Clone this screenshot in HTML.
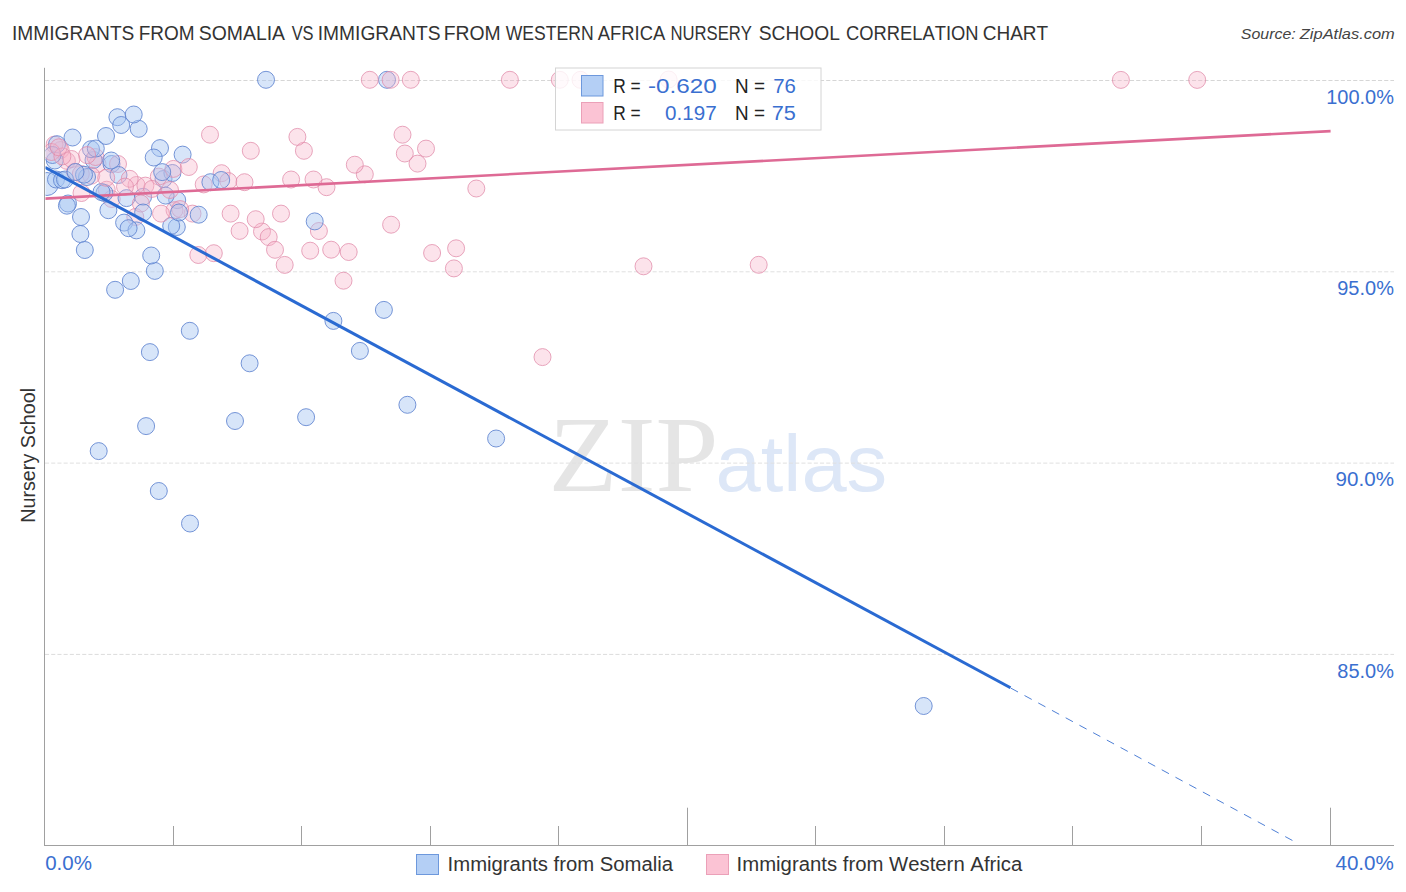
<!DOCTYPE html>
<html><head><meta charset="utf-8"><title>Chart</title>
<style>
html,body{margin:0;padding:0;background:#fff;}
body{width:1406px;height:892px;overflow:hidden;position:relative;font-family:"Liberation Sans", sans-serif;}
svg{position:absolute;left:0;top:0;}
text{font-family:"Liberation Sans", sans-serif;font-kerning:none;white-space:pre;}
</style></head><body>
<svg width="1406" height="892" viewBox="0 0 1406 892">
<defs><clipPath id="plot"><rect x="45.5" y="60" width="1348.5" height="785"/></clipPath></defs>

<text x="12.03" y="39.9" font-size="20" fill="#333" textLength="122.35" lengthAdjust="spacingAndGlyphs" style='font-family:"Liberation Sans", sans-serif'>IMMIGRANTS</text>
<text x="138.64" y="39.9" font-size="20" fill="#333" textLength="55.92" lengthAdjust="spacingAndGlyphs" style='font-family:"Liberation Sans", sans-serif'>FROM</text>
<text x="198.82" y="39.9" font-size="20" fill="#333" textLength="86.22" lengthAdjust="spacingAndGlyphs" style='font-family:"Liberation Sans", sans-serif'>SOMALIA</text>
<text x="291.63" y="39.9" font-size="20" fill="#333" textLength="21.93" lengthAdjust="spacingAndGlyphs" style='font-family:"Liberation Sans", sans-serif'>VS</text>
<text x="317.73" y="39.9" font-size="20" fill="#333" textLength="122.76" lengthAdjust="spacingAndGlyphs" style='font-family:"Liberation Sans", sans-serif'>IMMIGRANTS</text>
<text x="443.71" y="39.9" font-size="20" fill="#333" textLength="56.98" lengthAdjust="spacingAndGlyphs" style='font-family:"Liberation Sans", sans-serif'>FROM</text>
<text x="505.72" y="39.9" font-size="20" fill="#333" textLength="87.91" lengthAdjust="spacingAndGlyphs" style='font-family:"Liberation Sans", sans-serif'>WESTERN</text>
<text x="597.86" y="39.9" font-size="20" fill="#333" textLength="67.37" lengthAdjust="spacingAndGlyphs" style='font-family:"Liberation Sans", sans-serif'>AFRICA</text>
<text x="670.53" y="39.9" font-size="20" fill="#333" textLength="81.43" lengthAdjust="spacingAndGlyphs" style='font-family:"Liberation Sans", sans-serif'>NURSERY</text>
<text x="758.73" y="39.9" font-size="20" fill="#333" textLength="81.21" lengthAdjust="spacingAndGlyphs" style='font-family:"Liberation Sans", sans-serif'>SCHOOL</text>
<text x="846.07" y="39.9" font-size="20" fill="#333" textLength="132.53" lengthAdjust="spacingAndGlyphs" style='font-family:"Liberation Sans", sans-serif'>CORRELATION</text>
<text x="982.74" y="39.9" font-size="20" fill="#333" textLength="65.40" lengthAdjust="spacingAndGlyphs" style='font-family:"Liberation Sans", sans-serif'>CHART</text>
<text x="1240.85" y="38.8" font-size="15.5" fill="#444" font-style="italic" textLength="54.89" lengthAdjust="spacingAndGlyphs" style='font-family:"Liberation Sans", sans-serif'>Source:</text>
<text x="1299.82" y="38.8" font-size="15.5" fill="#444" font-style="italic" textLength="94.94" lengthAdjust="spacingAndGlyphs" style='font-family:"Liberation Sans", sans-serif'>ZipAtlas.com</text>
<text x="548.58" y="490.9" font-size="108" fill="#e5e5e5" textLength="169.96" lengthAdjust="spacingAndGlyphs" style='font-family:"Liberation Serif", serif'>ZIP</text>
<text x="715.55" y="490.9" font-size="80" fill="#dde7f7" textLength="171.69" lengthAdjust="spacingAndGlyphs" style='font-family:"Liberation Sans", sans-serif'>atlas</text>
<line x1="45" y1="80.5" x2="1394" y2="80.5" stroke="#d6d6d6" stroke-width="1" stroke-dasharray="4.1 2.1"/>
<line x1="45" y1="271.8" x2="1394" y2="271.8" stroke="#e0e0e0" stroke-width="1" stroke-dasharray="4.1 2.1"/>
<line x1="45" y1="463.1" x2="1394" y2="463.1" stroke="#e0e0e0" stroke-width="1" stroke-dasharray="4.1 2.1"/>
<line x1="45" y1="654.4" x2="1394" y2="654.4" stroke="#dcdcdc" stroke-width="1" stroke-dasharray="4.1 2.1"/>
<line x1="44.5" y1="67.8" x2="44.5" y2="846" stroke="#a0a0a0" stroke-width="1"/>
<line x1="44" y1="845.5" x2="1394" y2="845.5" stroke="#a0a0a0" stroke-width="1"/>
<line x1="173.5" y1="826" x2="173.5" y2="845.5" stroke="#a0a0a0" stroke-width="1"/>
<line x1="301.5" y1="826" x2="301.5" y2="845.5" stroke="#a0a0a0" stroke-width="1"/>
<line x1="430.5" y1="826" x2="430.5" y2="845.5" stroke="#a0a0a0" stroke-width="1"/>
<line x1="558.5" y1="826" x2="558.5" y2="845.5" stroke="#a0a0a0" stroke-width="1"/>
<line x1="687.5" y1="807.7" x2="687.5" y2="845.5" stroke="#a0a0a0" stroke-width="1"/>
<line x1="815.5" y1="826" x2="815.5" y2="845.5" stroke="#a0a0a0" stroke-width="1"/>
<line x1="944.5" y1="826" x2="944.5" y2="845.5" stroke="#a0a0a0" stroke-width="1"/>
<line x1="1072.5" y1="826" x2="1072.5" y2="845.5" stroke="#a0a0a0" stroke-width="1"/>
<line x1="1201.5" y1="826" x2="1201.5" y2="845.5" stroke="#a0a0a0" stroke-width="1"/>
<line x1="1330.5" y1="807.7" x2="1330.5" y2="845.5" stroke="#a0a0a0" stroke-width="1"/>
<text x="1326.18" y="103.8" font-size="20" fill="#3a6fd0" textLength="67.73" lengthAdjust="spacingAndGlyphs" style='font-family:"Liberation Sans", sans-serif'>100.0%</text>
<text x="1337.26" y="295" font-size="20" fill="#3a6fd0" textLength="56.65" lengthAdjust="spacingAndGlyphs" style='font-family:"Liberation Sans", sans-serif'>95.0%</text>
<text x="1335.64" y="485.7" font-size="20" fill="#3a6fd0" textLength="58.30" lengthAdjust="spacingAndGlyphs" style='font-family:"Liberation Sans", sans-serif'>90.0%</text>
<text x="1337.33" y="678" font-size="20" fill="#3a6fd0" textLength="56.58" lengthAdjust="spacingAndGlyphs" style='font-family:"Liberation Sans", sans-serif'>85.0%</text>
<text x="45.20" y="870" font-size="20" fill="#3a6fd0" textLength="46.73" lengthAdjust="spacingAndGlyphs" style='font-family:"Liberation Sans", sans-serif'>0.0%</text>
<text x="1335.43" y="869.9" font-size="20" fill="#3a6fd0" textLength="58.41" lengthAdjust="spacingAndGlyphs" style='font-family:"Liberation Sans", sans-serif'>40.0%</text>
<text transform="translate(35,521.2) rotate(-90)" x="-1.62" y="0" font-size="20" fill="#333" textLength="134.94" lengthAdjust="spacingAndGlyphs">Nursery School</text>
<g clip-path="url(#plot)">
<circle cx="47" cy="184" r="11.5" fill="#a6c6f2" fill-opacity="0.45" stroke="#5f84d0" stroke-opacity="0.85" stroke-width="1"/>
<circle cx="60.7" cy="150" r="8.5" fill="#f8b4c8" fill-opacity="0.37" stroke="#e08aa8" stroke-opacity="0.75" stroke-width="1"/>
<circle cx="402.5" cy="134.7" r="8.5" fill="#f8b4c8" fill-opacity="0.37" stroke="#e08aa8" stroke-opacity="0.75" stroke-width="1"/>
<circle cx="509.9" cy="79.8" r="8.5" fill="#f8b4c8" fill-opacity="0.37" stroke="#e08aa8" stroke-opacity="0.75" stroke-width="1"/>
<circle cx="410.8" cy="79.8" r="8.5" fill="#f8b4c8" fill-opacity="0.37" stroke="#e08aa8" stroke-opacity="0.75" stroke-width="1"/>
<circle cx="668.6" cy="79.5" r="8.5" fill="#f8b4c8" fill-opacity="0.37" stroke="#e08aa8" stroke-opacity="0.75" stroke-width="1"/>
<circle cx="221.6" cy="173.2" r="8.5" fill="#f8b4c8" fill-opacity="0.37" stroke="#e08aa8" stroke-opacity="0.75" stroke-width="1"/>
<circle cx="182.6" cy="154.6" r="8.5" fill="#a6c6f2" fill-opacity="0.45" stroke="#5f84d0" stroke-opacity="0.85" stroke-width="1"/>
<circle cx="106.7" cy="189.7" r="8.5" fill="#f8b4c8" fill-opacity="0.37" stroke="#e08aa8" stroke-opacity="0.75" stroke-width="1"/>
<circle cx="56" cy="179.5" r="8.5" fill="#a6c6f2" fill-opacity="0.45" stroke="#5f84d0" stroke-opacity="0.85" stroke-width="1"/>
<circle cx="758.7" cy="264.8" r="8.5" fill="#f8b4c8" fill-opacity="0.37" stroke="#e08aa8" stroke-opacity="0.75" stroke-width="1"/>
<circle cx="97.5" cy="164" r="8.5" fill="#f8b4c8" fill-opacity="0.37" stroke="#e08aa8" stroke-opacity="0.75" stroke-width="1"/>
<circle cx="111.7" cy="199" r="8.5" fill="#f8b4c8" fill-opacity="0.37" stroke="#e08aa8" stroke-opacity="0.75" stroke-width="1"/>
<circle cx="66.9" cy="160.9" r="8.5" fill="#f8b4c8" fill-opacity="0.37" stroke="#e08aa8" stroke-opacity="0.75" stroke-width="1"/>
<circle cx="163.5" cy="179" r="8.5" fill="#a6c6f2" fill-opacity="0.45" stroke="#5f84d0" stroke-opacity="0.85" stroke-width="1"/>
<circle cx="172.4" cy="173" r="8.5" fill="#a6c6f2" fill-opacity="0.45" stroke="#5f84d0" stroke-opacity="0.85" stroke-width="1"/>
<circle cx="93.5" cy="160" r="8.5" fill="#a6c6f2" fill-opacity="0.45" stroke="#5f84d0" stroke-opacity="0.85" stroke-width="1"/>
<circle cx="135.3" cy="217" r="8.5" fill="#f8b4c8" fill-opacity="0.37" stroke="#e08aa8" stroke-opacity="0.75" stroke-width="1"/>
<circle cx="1197.2" cy="79.9" r="8.5" fill="#f8b4c8" fill-opacity="0.37" stroke="#e08aa8" stroke-opacity="0.75" stroke-width="1"/>
<circle cx="146.1" cy="426.1" r="8.5" fill="#a6c6f2" fill-opacity="0.45" stroke="#5f84d0" stroke-opacity="0.85" stroke-width="1"/>
<circle cx="81.5" cy="193" r="8.5" fill="#f8b4c8" fill-opacity="0.37" stroke="#e08aa8" stroke-opacity="0.75" stroke-width="1"/>
<circle cx="198.3" cy="255" r="8.5" fill="#f8b4c8" fill-opacity="0.37" stroke="#e08aa8" stroke-opacity="0.75" stroke-width="1"/>
<circle cx="387" cy="79.8" r="8.5" fill="#a6c6f2" fill-opacity="0.45" stroke="#5f84d0" stroke-opacity="0.85" stroke-width="1"/>
<circle cx="476.3" cy="188.5" r="8.5" fill="#f8b4c8" fill-opacity="0.37" stroke="#e08aa8" stroke-opacity="0.75" stroke-width="1"/>
<circle cx="62" cy="180.2" r="8.5" fill="#a6c6f2" fill-opacity="0.45" stroke="#5f84d0" stroke-opacity="0.85" stroke-width="1"/>
<circle cx="104.4" cy="193" r="8.5" fill="#a6c6f2" fill-opacity="0.45" stroke="#5f84d0" stroke-opacity="0.85" stroke-width="1"/>
<circle cx="91.3" cy="175.7" r="8.5" fill="#f8b4c8" fill-opacity="0.37" stroke="#e08aa8" stroke-opacity="0.75" stroke-width="1"/>
<circle cx="75" cy="171.8" r="8.5" fill="#f8b4c8" fill-opacity="0.37" stroke="#e08aa8" stroke-opacity="0.75" stroke-width="1"/>
<circle cx="189.8" cy="330.8" r="8.5" fill="#a6c6f2" fill-opacity="0.45" stroke="#5f84d0" stroke-opacity="0.85" stroke-width="1"/>
<circle cx="95.5" cy="157" r="8.5" fill="#f8b4c8" fill-opacity="0.37" stroke="#e08aa8" stroke-opacity="0.75" stroke-width="1"/>
<circle cx="138.7" cy="128.8" r="8.5" fill="#a6c6f2" fill-opacity="0.45" stroke="#5f84d0" stroke-opacity="0.85" stroke-width="1"/>
<circle cx="91" cy="149.2" r="8.5" fill="#a6c6f2" fill-opacity="0.45" stroke="#5f84d0" stroke-opacity="0.85" stroke-width="1"/>
<circle cx="54.5" cy="144.6" r="8.5" fill="#f8b4c8" fill-opacity="0.37" stroke="#e08aa8" stroke-opacity="0.75" stroke-width="1"/>
<circle cx="331.2" cy="249.7" r="8.5" fill="#f8b4c8" fill-opacity="0.37" stroke="#e08aa8" stroke-opacity="0.75" stroke-width="1"/>
<circle cx="117.4" cy="117.2" r="8.5" fill="#a6c6f2" fill-opacity="0.45" stroke="#5f84d0" stroke-opacity="0.85" stroke-width="1"/>
<circle cx="54.8" cy="160.5" r="8.5" fill="#a6c6f2" fill-opacity="0.45" stroke="#5f84d0" stroke-opacity="0.85" stroke-width="1"/>
<circle cx="262" cy="231.5" r="8.5" fill="#f8b4c8" fill-opacity="0.37" stroke="#e08aa8" stroke-opacity="0.75" stroke-width="1"/>
<circle cx="57" cy="144.2" r="8.5" fill="#a6c6f2" fill-opacity="0.45" stroke="#5f84d0" stroke-opacity="0.85" stroke-width="1"/>
<circle cx="111.5" cy="164" r="8.5" fill="#a6c6f2" fill-opacity="0.45" stroke="#5f84d0" stroke-opacity="0.85" stroke-width="1"/>
<circle cx="426" cy="148.6" r="8.5" fill="#f8b4c8" fill-opacity="0.37" stroke="#e08aa8" stroke-opacity="0.75" stroke-width="1"/>
<circle cx="160" cy="148.1" r="8.5" fill="#a6c6f2" fill-opacity="0.45" stroke="#5f84d0" stroke-opacity="0.85" stroke-width="1"/>
<circle cx="126.5" cy="198.1" r="8.5" fill="#a6c6f2" fill-opacity="0.45" stroke="#5f84d0" stroke-opacity="0.85" stroke-width="1"/>
<circle cx="80.4" cy="234" r="8.5" fill="#a6c6f2" fill-opacity="0.45" stroke="#5f84d0" stroke-opacity="0.85" stroke-width="1"/>
<circle cx="80.8" cy="174" r="8.5" fill="#f8b4c8" fill-opacity="0.37" stroke="#e08aa8" stroke-opacity="0.75" stroke-width="1"/>
<circle cx="68" cy="203.5" r="8.5" fill="#a6c6f2" fill-opacity="0.45" stroke="#5f84d0" stroke-opacity="0.85" stroke-width="1"/>
<circle cx="213.8" cy="253.2" r="8.5" fill="#f8b4c8" fill-opacity="0.37" stroke="#e08aa8" stroke-opacity="0.75" stroke-width="1"/>
<circle cx="176.8" cy="227" r="8.5" fill="#a6c6f2" fill-opacity="0.45" stroke="#5f84d0" stroke-opacity="0.85" stroke-width="1"/>
<circle cx="580.5" cy="79.8" r="8.5" fill="#f8b4c8" fill-opacity="0.37" stroke="#e08aa8" stroke-opacity="0.75" stroke-width="1"/>
<circle cx="177.2" cy="200.1" r="8.5" fill="#a6c6f2" fill-opacity="0.45" stroke="#5f84d0" stroke-opacity="0.85" stroke-width="1"/>
<circle cx="192.5" cy="213.6" r="8.5" fill="#f8b4c8" fill-opacity="0.37" stroke="#e08aa8" stroke-opacity="0.75" stroke-width="1"/>
<circle cx="72.5" cy="137.5" r="8.5" fill="#a6c6f2" fill-opacity="0.45" stroke="#5f84d0" stroke-opacity="0.85" stroke-width="1"/>
<circle cx="171.2" cy="225.9" r="8.5" fill="#a6c6f2" fill-opacity="0.45" stroke="#5f84d0" stroke-opacity="0.85" stroke-width="1"/>
<circle cx="95.8" cy="148.5" r="8.5" fill="#a6c6f2" fill-opacity="0.45" stroke="#5f84d0" stroke-opacity="0.85" stroke-width="1"/>
<circle cx="71.5" cy="159" r="8.5" fill="#f8b4c8" fill-opacity="0.37" stroke="#e08aa8" stroke-opacity="0.75" stroke-width="1"/>
<circle cx="266" cy="79.8" r="8.5" fill="#a6c6f2" fill-opacity="0.45" stroke="#5f84d0" stroke-opacity="0.85" stroke-width="1"/>
<circle cx="318.9" cy="231" r="8.5" fill="#f8b4c8" fill-opacity="0.37" stroke="#e08aa8" stroke-opacity="0.75" stroke-width="1"/>
<circle cx="173.4" cy="168.9" r="8.5" fill="#f8b4c8" fill-opacity="0.37" stroke="#e08aa8" stroke-opacity="0.75" stroke-width="1"/>
<circle cx="118" cy="164" r="8.5" fill="#f8b4c8" fill-opacity="0.37" stroke="#e08aa8" stroke-opacity="0.75" stroke-width="1"/>
<circle cx="84.8" cy="250" r="8.5" fill="#a6c6f2" fill-opacity="0.45" stroke="#5f84d0" stroke-opacity="0.85" stroke-width="1"/>
<circle cx="121.2" cy="125" r="8.5" fill="#a6c6f2" fill-opacity="0.45" stroke="#5f84d0" stroke-opacity="0.85" stroke-width="1"/>
<circle cx="149.9" cy="352.1" r="8.5" fill="#a6c6f2" fill-opacity="0.45" stroke="#5f84d0" stroke-opacity="0.85" stroke-width="1"/>
<circle cx="496.1" cy="438.5" r="8.5" fill="#a6c6f2" fill-opacity="0.45" stroke="#5f84d0" stroke-opacity="0.85" stroke-width="1"/>
<circle cx="87.1" cy="155.1" r="8.5" fill="#f8b4c8" fill-opacity="0.37" stroke="#e08aa8" stroke-opacity="0.75" stroke-width="1"/>
<circle cx="210" cy="134.7" r="8.5" fill="#f8b4c8" fill-opacity="0.37" stroke="#e08aa8" stroke-opacity="0.75" stroke-width="1"/>
<circle cx="303.9" cy="150.8" r="8.5" fill="#f8b4c8" fill-opacity="0.37" stroke="#e08aa8" stroke-opacity="0.75" stroke-width="1"/>
<circle cx="174.5" cy="210.2" r="8.5" fill="#f8b4c8" fill-opacity="0.37" stroke="#e08aa8" stroke-opacity="0.75" stroke-width="1"/>
<circle cx="65" cy="179.5" r="8.5" fill="#a6c6f2" fill-opacity="0.45" stroke="#5f84d0" stroke-opacity="0.85" stroke-width="1"/>
<circle cx="158.8" cy="176.6" r="8.5" fill="#f8b4c8" fill-opacity="0.37" stroke="#e08aa8" stroke-opacity="0.75" stroke-width="1"/>
<circle cx="154.8" cy="270.9" r="8.5" fill="#a6c6f2" fill-opacity="0.45" stroke="#5f84d0" stroke-opacity="0.85" stroke-width="1"/>
<circle cx="923.7" cy="706" r="8.5" fill="#a6c6f2" fill-opacity="0.45" stroke="#5f84d0" stroke-opacity="0.85" stroke-width="1"/>
<circle cx="383.9" cy="309.9" r="8.5" fill="#a6c6f2" fill-opacity="0.45" stroke="#5f84d0" stroke-opacity="0.85" stroke-width="1"/>
<circle cx="391.1" cy="224.7" r="8.5" fill="#f8b4c8" fill-opacity="0.37" stroke="#e08aa8" stroke-opacity="0.75" stroke-width="1"/>
<circle cx="66.9" cy="205.7" r="8.5" fill="#a6c6f2" fill-opacity="0.45" stroke="#5f84d0" stroke-opacity="0.85" stroke-width="1"/>
<circle cx="108.4" cy="210.2" r="8.5" fill="#a6c6f2" fill-opacity="0.45" stroke="#5f84d0" stroke-opacity="0.85" stroke-width="1"/>
<circle cx="235" cy="421" r="8.5" fill="#a6c6f2" fill-opacity="0.45" stroke="#5f84d0" stroke-opacity="0.85" stroke-width="1"/>
<circle cx="143.1" cy="196.8" r="8.5" fill="#a6c6f2" fill-opacity="0.45" stroke="#5f84d0" stroke-opacity="0.85" stroke-width="1"/>
<circle cx="136.5" cy="185" r="8.5" fill="#f8b4c8" fill-opacity="0.37" stroke="#e08aa8" stroke-opacity="0.75" stroke-width="1"/>
<circle cx="161" cy="213.6" r="8.5" fill="#f8b4c8" fill-opacity="0.37" stroke="#e08aa8" stroke-opacity="0.75" stroke-width="1"/>
<circle cx="52.5" cy="155" r="8.5" fill="#a6c6f2" fill-opacity="0.45" stroke="#5f84d0" stroke-opacity="0.85" stroke-width="1"/>
<circle cx="203.7" cy="184.4" r="8.5" fill="#f8b4c8" fill-opacity="0.37" stroke="#e08aa8" stroke-opacity="0.75" stroke-width="1"/>
<circle cx="364.8" cy="174.3" r="8.5" fill="#f8b4c8" fill-opacity="0.37" stroke="#e08aa8" stroke-opacity="0.75" stroke-width="1"/>
<circle cx="239.6" cy="230.9" r="8.5" fill="#f8b4c8" fill-opacity="0.37" stroke="#e08aa8" stroke-opacity="0.75" stroke-width="1"/>
<circle cx="390.6" cy="79.8" r="8.5" fill="#f8b4c8" fill-opacity="0.37" stroke="#e08aa8" stroke-opacity="0.75" stroke-width="1"/>
<circle cx="124.1" cy="222.6" r="8.5" fill="#a6c6f2" fill-opacity="0.45" stroke="#5f84d0" stroke-opacity="0.85" stroke-width="1"/>
<circle cx="51.5" cy="152" r="8.5" fill="#f8b4c8" fill-opacity="0.37" stroke="#e08aa8" stroke-opacity="0.75" stroke-width="1"/>
<circle cx="314.7" cy="221.4" r="8.5" fill="#a6c6f2" fill-opacity="0.45" stroke="#5f84d0" stroke-opacity="0.85" stroke-width="1"/>
<circle cx="354.8" cy="164.7" r="8.5" fill="#f8b4c8" fill-opacity="0.37" stroke="#e08aa8" stroke-opacity="0.75" stroke-width="1"/>
<circle cx="188.8" cy="167" r="8.5" fill="#f8b4c8" fill-opacity="0.37" stroke="#e08aa8" stroke-opacity="0.75" stroke-width="1"/>
<circle cx="268.7" cy="237.1" r="8.5" fill="#f8b4c8" fill-opacity="0.37" stroke="#e08aa8" stroke-opacity="0.75" stroke-width="1"/>
<circle cx="140.9" cy="203.5" r="8.5" fill="#f8b4c8" fill-opacity="0.37" stroke="#e08aa8" stroke-opacity="0.75" stroke-width="1"/>
<circle cx="98.7" cy="451.1" r="8.5" fill="#a6c6f2" fill-opacity="0.45" stroke="#5f84d0" stroke-opacity="0.85" stroke-width="1"/>
<circle cx="165.6" cy="195.6" r="8.5" fill="#a6c6f2" fill-opacity="0.45" stroke="#5f84d0" stroke-opacity="0.85" stroke-width="1"/>
<circle cx="306.1" cy="417.2" r="8.5" fill="#a6c6f2" fill-opacity="0.45" stroke="#5f84d0" stroke-opacity="0.85" stroke-width="1"/>
<circle cx="101.5" cy="192" r="8.5" fill="#a6c6f2" fill-opacity="0.45" stroke="#5f84d0" stroke-opacity="0.85" stroke-width="1"/>
<circle cx="145.4" cy="185.6" r="8.5" fill="#f8b4c8" fill-opacity="0.37" stroke="#e08aa8" stroke-opacity="0.75" stroke-width="1"/>
<circle cx="417.5" cy="163.6" r="8.5" fill="#f8b4c8" fill-opacity="0.37" stroke="#e08aa8" stroke-opacity="0.75" stroke-width="1"/>
<circle cx="333.4" cy="320.9" r="8.5" fill="#a6c6f2" fill-opacity="0.45" stroke="#5f84d0" stroke-opacity="0.85" stroke-width="1"/>
<circle cx="291.1" cy="179.5" r="8.5" fill="#f8b4c8" fill-opacity="0.37" stroke="#e08aa8" stroke-opacity="0.75" stroke-width="1"/>
<circle cx="348.7" cy="252" r="8.5" fill="#f8b4c8" fill-opacity="0.37" stroke="#e08aa8" stroke-opacity="0.75" stroke-width="1"/>
<circle cx="151.2" cy="255.5" r="8.5" fill="#a6c6f2" fill-opacity="0.45" stroke="#5f84d0" stroke-opacity="0.85" stroke-width="1"/>
<circle cx="542.5" cy="357.1" r="8.5" fill="#f8b4c8" fill-opacity="0.37" stroke="#e08aa8" stroke-opacity="0.75" stroke-width="1"/>
<circle cx="118.5" cy="175" r="8.5" fill="#a6c6f2" fill-opacity="0.45" stroke="#5f84d0" stroke-opacity="0.85" stroke-width="1"/>
<circle cx="255.7" cy="219.2" r="8.5" fill="#f8b4c8" fill-opacity="0.37" stroke="#e08aa8" stroke-opacity="0.75" stroke-width="1"/>
<circle cx="228.3" cy="181.1" r="8.5" fill="#f8b4c8" fill-opacity="0.37" stroke="#e08aa8" stroke-opacity="0.75" stroke-width="1"/>
<circle cx="129.7" cy="178.8" r="8.5" fill="#f8b4c8" fill-opacity="0.37" stroke="#e08aa8" stroke-opacity="0.75" stroke-width="1"/>
<circle cx="559.8" cy="79.8" r="8.5" fill="#f8b4c8" fill-opacity="0.37" stroke="#e08aa8" stroke-opacity="0.75" stroke-width="1"/>
<circle cx="230.6" cy="213.6" r="8.5" fill="#f8b4c8" fill-opacity="0.37" stroke="#e08aa8" stroke-opacity="0.75" stroke-width="1"/>
<circle cx="275" cy="249.8" r="8.5" fill="#f8b4c8" fill-opacity="0.37" stroke="#e08aa8" stroke-opacity="0.75" stroke-width="1"/>
<circle cx="62.4" cy="156.4" r="8.5" fill="#f8b4c8" fill-opacity="0.37" stroke="#e08aa8" stroke-opacity="0.75" stroke-width="1"/>
<circle cx="359.9" cy="350.9" r="8.5" fill="#a6c6f2" fill-opacity="0.45" stroke="#5f84d0" stroke-opacity="0.85" stroke-width="1"/>
<circle cx="456.1" cy="248.3" r="8.5" fill="#f8b4c8" fill-opacity="0.37" stroke="#e08aa8" stroke-opacity="0.75" stroke-width="1"/>
<circle cx="130.8" cy="281" r="8.5" fill="#a6c6f2" fill-opacity="0.45" stroke="#5f84d0" stroke-opacity="0.85" stroke-width="1"/>
<circle cx="297.4" cy="136.9" r="8.5" fill="#f8b4c8" fill-opacity="0.37" stroke="#e08aa8" stroke-opacity="0.75" stroke-width="1"/>
<circle cx="249.6" cy="363.3" r="8.5" fill="#a6c6f2" fill-opacity="0.45" stroke="#5f84d0" stroke-opacity="0.85" stroke-width="1"/>
<circle cx="58.8" cy="147.3" r="8.5" fill="#f8b4c8" fill-opacity="0.37" stroke="#e08aa8" stroke-opacity="0.75" stroke-width="1"/>
<circle cx="369.8" cy="79.8" r="8.5" fill="#f8b4c8" fill-opacity="0.37" stroke="#e08aa8" stroke-opacity="0.75" stroke-width="1"/>
<circle cx="326.5" cy="187.2" r="8.5" fill="#f8b4c8" fill-opacity="0.37" stroke="#e08aa8" stroke-opacity="0.75" stroke-width="1"/>
<circle cx="310.2" cy="250.7" r="8.5" fill="#f8b4c8" fill-opacity="0.37" stroke="#e08aa8" stroke-opacity="0.75" stroke-width="1"/>
<circle cx="136.4" cy="230.4" r="8.5" fill="#a6c6f2" fill-opacity="0.45" stroke="#5f84d0" stroke-opacity="0.85" stroke-width="1"/>
<circle cx="170" cy="190" r="8.5" fill="#f8b4c8" fill-opacity="0.37" stroke="#e08aa8" stroke-opacity="0.75" stroke-width="1"/>
<circle cx="190" cy="523.5" r="8.5" fill="#a6c6f2" fill-opacity="0.45" stroke="#5f84d0" stroke-opacity="0.85" stroke-width="1"/>
<circle cx="162.2" cy="172.1" r="8.5" fill="#a6c6f2" fill-opacity="0.45" stroke="#5f84d0" stroke-opacity="0.85" stroke-width="1"/>
<circle cx="180.1" cy="209.1" r="8.5" fill="#f8b4c8" fill-opacity="0.37" stroke="#e08aa8" stroke-opacity="0.75" stroke-width="1"/>
<circle cx="179" cy="212.5" r="8.5" fill="#a6c6f2" fill-opacity="0.45" stroke="#5f84d0" stroke-opacity="0.85" stroke-width="1"/>
<circle cx="87" cy="177" r="8.5" fill="#a6c6f2" fill-opacity="0.45" stroke="#5f84d0" stroke-opacity="0.85" stroke-width="1"/>
<circle cx="133.7" cy="114.5" r="8.5" fill="#a6c6f2" fill-opacity="0.45" stroke="#5f84d0" stroke-opacity="0.85" stroke-width="1"/>
<circle cx="210.4" cy="182.2" r="8.5" fill="#a6c6f2" fill-opacity="0.45" stroke="#5f84d0" stroke-opacity="0.85" stroke-width="1"/>
<circle cx="221.2" cy="180" r="8.5" fill="#a6c6f2" fill-opacity="0.45" stroke="#5f84d0" stroke-opacity="0.85" stroke-width="1"/>
<circle cx="128.6" cy="228.2" r="8.5" fill="#a6c6f2" fill-opacity="0.45" stroke="#5f84d0" stroke-opacity="0.85" stroke-width="1"/>
<circle cx="198.7" cy="214.7" r="8.5" fill="#a6c6f2" fill-opacity="0.45" stroke="#5f84d0" stroke-opacity="0.85" stroke-width="1"/>
<circle cx="244.5" cy="182.2" r="8.5" fill="#f8b4c8" fill-opacity="0.37" stroke="#e08aa8" stroke-opacity="0.75" stroke-width="1"/>
<circle cx="643.5" cy="266.3" r="8.5" fill="#f8b4c8" fill-opacity="0.37" stroke="#e08aa8" stroke-opacity="0.75" stroke-width="1"/>
<circle cx="404.8" cy="153.5" r="8.5" fill="#f8b4c8" fill-opacity="0.37" stroke="#e08aa8" stroke-opacity="0.75" stroke-width="1"/>
<circle cx="284.7" cy="264.9" r="8.5" fill="#f8b4c8" fill-opacity="0.37" stroke="#e08aa8" stroke-opacity="0.75" stroke-width="1"/>
<circle cx="432.1" cy="253" r="8.5" fill="#f8b4c8" fill-opacity="0.37" stroke="#e08aa8" stroke-opacity="0.75" stroke-width="1"/>
<circle cx="106" cy="136" r="8.5" fill="#a6c6f2" fill-opacity="0.45" stroke="#5f84d0" stroke-opacity="0.85" stroke-width="1"/>
<circle cx="106.2" cy="177.8" r="8.5" fill="#f8b4c8" fill-opacity="0.37" stroke="#e08aa8" stroke-opacity="0.75" stroke-width="1"/>
<circle cx="407.4" cy="404.8" r="8.5" fill="#a6c6f2" fill-opacity="0.45" stroke="#5f84d0" stroke-opacity="0.85" stroke-width="1"/>
<circle cx="125" cy="186.6" r="8.5" fill="#f8b4c8" fill-opacity="0.37" stroke="#e08aa8" stroke-opacity="0.75" stroke-width="1"/>
<circle cx="281" cy="213.6" r="8.5" fill="#f8b4c8" fill-opacity="0.37" stroke="#e08aa8" stroke-opacity="0.75" stroke-width="1"/>
<circle cx="453.9" cy="268.4" r="8.5" fill="#f8b4c8" fill-opacity="0.37" stroke="#e08aa8" stroke-opacity="0.75" stroke-width="1"/>
<circle cx="152.1" cy="188.9" r="8.5" fill="#f8b4c8" fill-opacity="0.37" stroke="#e08aa8" stroke-opacity="0.75" stroke-width="1"/>
<circle cx="250.8" cy="150.8" r="8.5" fill="#f8b4c8" fill-opacity="0.37" stroke="#e08aa8" stroke-opacity="0.75" stroke-width="1"/>
<circle cx="313.5" cy="179.5" r="8.5" fill="#f8b4c8" fill-opacity="0.37" stroke="#e08aa8" stroke-opacity="0.75" stroke-width="1"/>
<circle cx="143.1" cy="212.5" r="8.5" fill="#a6c6f2" fill-opacity="0.45" stroke="#5f84d0" stroke-opacity="0.85" stroke-width="1"/>
<circle cx="153.7" cy="157.5" r="8.5" fill="#a6c6f2" fill-opacity="0.45" stroke="#5f84d0" stroke-opacity="0.85" stroke-width="1"/>
<circle cx="115.1" cy="289.8" r="8.5" fill="#a6c6f2" fill-opacity="0.45" stroke="#5f84d0" stroke-opacity="0.85" stroke-width="1"/>
<circle cx="158.8" cy="491" r="8.5" fill="#a6c6f2" fill-opacity="0.45" stroke="#5f84d0" stroke-opacity="0.85" stroke-width="1"/>
<circle cx="1120.9" cy="79.9" r="8.5" fill="#f8b4c8" fill-opacity="0.37" stroke="#e08aa8" stroke-opacity="0.75" stroke-width="1"/>
<circle cx="81" cy="217" r="8.5" fill="#a6c6f2" fill-opacity="0.45" stroke="#5f84d0" stroke-opacity="0.85" stroke-width="1"/>
<circle cx="343.5" cy="280.7" r="8.5" fill="#f8b4c8" fill-opacity="0.37" stroke="#e08aa8" stroke-opacity="0.75" stroke-width="1"/>
<circle cx="84" cy="174.7" r="8.5" fill="#a6c6f2" fill-opacity="0.45" stroke="#5f84d0" stroke-opacity="0.85" stroke-width="1"/>
<circle cx="75.5" cy="172" r="8.5" fill="#a6c6f2" fill-opacity="0.45" stroke="#5f84d0" stroke-opacity="0.85" stroke-width="1"/>
<circle cx="111.2" cy="160.5" r="8.5" fill="#a6c6f2" fill-opacity="0.45" stroke="#5f84d0" stroke-opacity="0.85" stroke-width="1"/>
<line x1="45" y1="198.6" x2="1330.6" y2="131.1" stroke="#de6a95" stroke-width="2.6"/>
<line x1="45" y1="167.3" x2="1010.5" y2="687.7" stroke="#2a6ad2" stroke-width="3"/>
<line x1="1010.8" y1="688.1" x2="1293" y2="840.8" stroke="#4f80d6" stroke-width="1" stroke-dasharray="8.2 7.4"/>
</g>
<rect x="555.5" y="68" width="265.5" height="62" fill="#fff" fill-opacity="0.82" stroke="#d4d4d4" stroke-width="1"/>
<rect x="581.5" y="75.5" width="21.5" height="20.5" fill="#b4cff5" stroke="#6d98dc" stroke-width="1"/>
<rect x="581.5" y="102.5" width="21.5" height="20.5" fill="#fbc3d4" stroke="#eba0b8" stroke-width="1"/>
<text x="613.18" y="92.9" font-size="20" fill="#222" textLength="27.48" lengthAdjust="spacingAndGlyphs" style='font-family:"Liberation Sans", sans-serif'>R =</text>
<text x="648.02" y="92.9" font-size="20" fill="#3a6fd0" textLength="68.72" lengthAdjust="spacingAndGlyphs" style='font-family:"Liberation Sans", sans-serif'>-0.620</text>
<text x="735.05" y="92.9" font-size="20" fill="#222" textLength="29.88" lengthAdjust="spacingAndGlyphs" style='font-family:"Liberation Sans", sans-serif'>N =</text>
<text x="773.26" y="92.9" font-size="20" fill="#3a6fd0" textLength="22.64" lengthAdjust="spacingAndGlyphs" style='font-family:"Liberation Sans", sans-serif'>76</text>
<text x="613.18" y="119.8" font-size="20" fill="#222" textLength="27.48" lengthAdjust="spacingAndGlyphs" style='font-family:"Liberation Sans", sans-serif'>R =</text>
<text x="664.99" y="119.8" font-size="20" fill="#3a6fd0" textLength="51.64" lengthAdjust="spacingAndGlyphs" style='font-family:"Liberation Sans", sans-serif'>0.197</text>
<text x="735.05" y="119.8" font-size="20" fill="#222" textLength="29.88" lengthAdjust="spacingAndGlyphs" style='font-family:"Liberation Sans", sans-serif'>N =</text>
<text x="771.79" y="119.8" font-size="20" fill="#3a6fd0" textLength="24.12" lengthAdjust="spacingAndGlyphs" style='font-family:"Liberation Sans", sans-serif'>75</text>
<rect x="416.5" y="854.5" width="22" height="20" fill="#b4cff5" stroke="#6d98dc" stroke-width="1"/>
<text x="447.63" y="871" font-size="20" fill="#333" textLength="225.47" lengthAdjust="spacingAndGlyphs" style='font-family:"Liberation Sans", sans-serif'>Immigrants from Somalia</text>
<rect x="706.5" y="854.5" width="22" height="20" fill="#fbc3d4" stroke="#eba0b8" stroke-width="1"/>
<text x="736.62" y="871" font-size="20" fill="#333" textLength="285.68" lengthAdjust="spacingAndGlyphs" style='font-family:"Liberation Sans", sans-serif'>Immigrants from Western Africa</text>
</svg></body></html>
